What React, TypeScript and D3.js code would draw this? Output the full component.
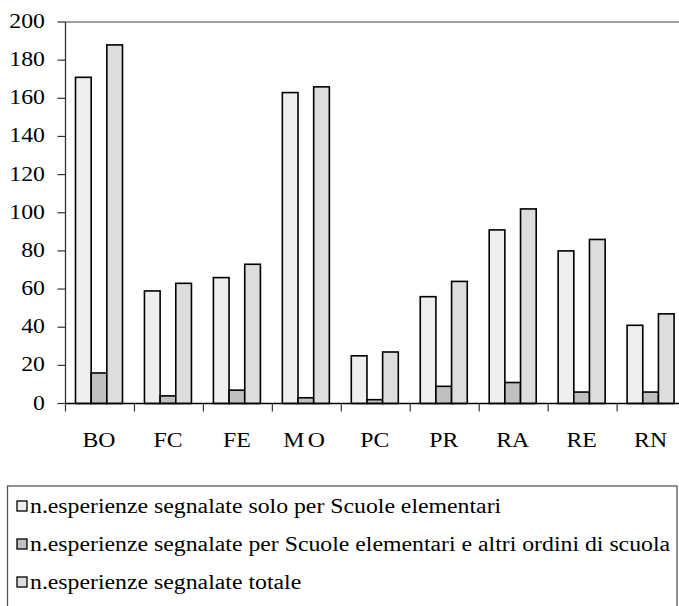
import React from "react";
import * as d3 from "d3";

const categories = ["BO", "FC", "FE", "MO", "PC", "PR", "RA", "RE", "RN"];
const seriesNames = [
  "n.esperienze segnalate solo per Scuole elementari",
  "n.esperienze segnalate per Scuole elementari e altri ordini di scuola",
  "n.esperienze segnalate totale",
];
const soloElementari = [171, 59, 66, 163, 25, 56, 91, 80, 41];
const elementariAltri = [16, 4, 7, 3, 2, 9, 11, 6, 6];
const totale = [188, 63, 73, 166, 27, 64, 102, 86, 47];
const yTicks = [0, 20, 40, 60, 80, 100, 120, 140, 160, 180, 200];
const colors = ["#EEEEEE", "#C0C0C0", "#DDDDDD"];

const W = 679;
const H = 606;

export default function App() {
  const left = 65.5;
  const step = 68.95;
  const x = d3
    .scaleBand<string>()
    .domain(categories)
    .range([left, left + step * categories.length])
    .padding(0);
  const x1 = d3.scaleBand<number>().domain([0, 1, 2]).range([10, 57]).padding(0);
  const y = d3.scaleLinear().domain([0, 200]).range([403.5, 22]);
  const allSeries = [soloElementari, elementariAltri, totale];
  const font = "'Liberation Serif', 'Times New Roman', serif";
  const sx = 1.16;

  return (
    <svg
      width={W}
      height={H}
      style={{ position: "absolute", left: 0, top: 0, background: "#fff" }}
    >
      {/* top frame line */}
      <line x1={left} x2={W} y1={y(200)} y2={y(200)} stroke="#808080" strokeWidth={1.3} />
      {/* y axis */}
      <line x1={left} x2={left} y1={y(200)} y2={y(0)} stroke="#333" strokeWidth={1.3} />
      {yTicks.map((t) => (
        <g key={t}>
          <line x1={left - 8} x2={left} y1={y(t)} y2={y(t)} stroke="#333" strokeWidth={1.2} />
          <text
            transform={`translate(45,${y(t) + 6}) scale(${sx},1)`}
            textAnchor="end"
            fontFamily={font}
            fontSize={20.5}
            fill="#000"
          >
            {t}
          </text>
        </g>
      ))}
      {/* bars */}
      {categories.map((c, i) => (
        <g key={c} transform={`translate(${x(c)},0)`}>
          {allSeries.map((s, j) => (
            <rect
              key={j}
              x={x1(j)}
              y={y(s[i])}
              width={x1.bandwidth()}
              height={y(0) - y(s[i])}
              fill={colors[j]}
              stroke="#000"
              strokeWidth={1.6}
            />
          ))}
        </g>
      ))}
      {/* x axis */}
      <line x1={left} x2={W} y1={y(0)} y2={y(0)} stroke="#000" strokeWidth={1.6} />
      {categories.map((c) => (
        <line
          key={c}
          x1={x(c) as number}
          x2={x(c) as number}
          y1={y(0)}
          y2={y(0) + 8}
          stroke="#333"
          strokeWidth={1.2}
        />
      ))}
      {categories.map((c) => (
        <text
          key={c}
          transform={`translate(${(x(c) as number) + 10 + 23.5},447) scale(${sx},1)`}
          textAnchor="middle"
          fontFamily={font}
          fontSize={20.5}
          fill="#000"
          letterSpacing={c === "MO" ? 3 : 0}
        >
          {c}
        </text>
      ))}
      {/* legend */}
      <rect x={7.5} y={486} width={669.5} height={130} fill="none" stroke="#555" strokeWidth={1.3} />
      {seriesNames.map((n, i) => (
        <g key={n} transform={`translate(0,${i * 38})`}>
          <rect x={17} y={501} width={10} height={10} fill={colors[i]} stroke="#000" strokeWidth={1.3} />
          <text
            transform={`translate(30,512.5) scale(${sx},1)`}
            fontFamily={font}
            fontSize={20.5}
            fill="#000"
          >
            {n}
          </text>
        </g>
      ))}
    </svg>
  );
}
